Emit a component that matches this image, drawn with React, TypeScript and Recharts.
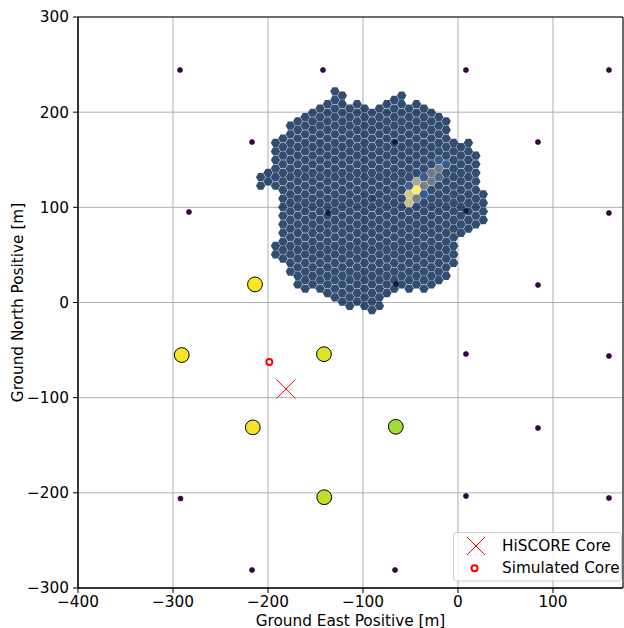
import React from 'react';
import { ScatterChart, Scatter, XAxis, YAxis, CartesianGrid, ReferenceArea, Legend } from 'recharts';

const FONT = 'DejaVu Sans, Verdana, sans-serif';
const FS = 15.3;

// axis ranges and ticks
const X_MIN = -400;
const X_MAX = 173.7;
const Y_MIN = -300;
const Y_MAX = 300;
const xTicks = [-400, -300, -200, -100, 0, 100];
const yTicks = [-300, -200, -100, 0, 100, 200, 300];

// stations without signal (x, y in m)
const quietX = [-292.6, -142.1, 8.4, 158.9, -216.8, -66.3, 84.2, -283.2, -136.8, 8.4, 158.9, -65.3, 84.2, 8.4, 158.9, 84.2, 8.4, 158.9, -292.1, -216.8, -66.3];
const quietY = [244.3, 244.3, 244.3, 244.3, 168.6, 168.6, 168.6, 95.1, 94.1, 96.1, 94.1, 19.4, 18.4, -54.1, -56.2, -131.9, -203.3, -205.4, -206.0, -281.1, -281.1];

// triggered stations with their normalised signal
const hitX = [-213.7, -290.8, -141.1, -216.0, -65.5, -140.8];
const hitY = [19.0, -55.2, -54.3, -131.2, -130.6, -204.6];
const hitSignal = [1.0, 0.99, 0.95, 0.98, 0.86, 0.91];

// reconstructed and simulated shower cores
const hiscoreCore = [{ x: -181.1, y: -90.9 }];
const simulatedCore = [{ x: -198.6, y: -62.5 }];
const telescopeMark = [{ x: -89.2, y: 109.5 }];

// camera image projected onto the ground: hexagonal pixel lattice
// (flat-topped hexagons, columns of cells with alternating half-row offset)
const COL_X0 = -207.7;
const COL_DX = 7.81;
const ROW_Y0 = 122.7;
const ROW_DY = 4.51;
// [column, first half-row, last half-row]
const cameraSegments: [number, number, number][] = [
  [0, -2, 0], [1, -3, -1], [2, -10, 0], [2, 14, 16], [3, -11, 17], [4, -14, 20],
  [5, -15, 23], [6, -16, 24], [7, -17, 23], [8, -18, 24], [9, -19, 25], [10, -22, 26],
  [11, -21, 27], [12, -18, 28], [13, -19, 27], [14, -18, 28], [15, -17, 29], [16, -18, 28],
  [17, -19, 25], [18, -20, 24], [19, -21, 23], [20, -18, 24], [21, -19, 23], [22, -18, 24],
  [23, -17, 23], [24, -16, 22], [25, -15, 21], [26, -10, 18], [27, -9, 11], [28, -10, 10],
  [29, -7, 9], [30, 2, 8],
];
// pixels carrying Cherenkov light: [column, half-row, intensity]
const litPixels: [number, number, number][] = [
  [21, 1, 1.0], [20, 2, 0.8], [20, 4, 0.75], [21, 3, 0.35], [20, 0, 0.15], [21, -1, 0.6],
  [22, 0, 0.35], [22, 2, 0.12], [22, -2, 0.12], [23, -1, 0.3], [24, -2, 0.18], [23, -3, 0.3],
  [24, -4, 0.3], [24, -6, 0.12], [25, -5, 0.12],
];

const VIRIDIS = ['#440154', '#482878', '#3E4A89', '#31688E', '#26828E', '#1F9E89', '#35B779', '#6DCD59', '#B4DE2C', '#FDE725'];
const CIVIDIS = ['#00204D', '#00336F', '#39486B', '#575C6D', '#707173', '#8A8779', '#A69D75', '#C4B56C', '#E4CF5B', '#FFEA46'];

function ramp(stops: string[], v: number): string {
  const t = Math.max(0, Math.min(1, v)) * (stops.length - 1);
  const i = Math.min(stops.length - 2, Math.floor(t));
  const f = t - i;
  const a = stops[i], b = stops[i + 1];
  const ch = (s: string, k: number) => parseInt(s.slice(1 + 2 * k, 3 + 2 * k), 16);
  const c = [0, 1, 2].map((k) => Math.round(ch(a, k) + (ch(b, k) - ch(a, k)) * f));
  return `rgb(${c[0]},${c[1]},${c[2]})`;
}

const quietStations = quietX.map((x, i) => ({ x, y: quietY[i] }));
const hitStations = hitX.map((x, i) => ({ x, y: hitY[i], v: hitSignal[i] }));

const litMap = new Map<string, number>();
litPixels.forEach(([c, m, v]) => litMap.set(`${c},${m}`, v));
const cameraPixels: { x: number; y: number; v: number }[] = [];
cameraSegments.forEach(([c, m0, m1]) => {
  for (let m = m0; m <= m1; m += 2) {
    cameraPixels.push({ x: COL_X0 + c * COL_DX, y: ROW_Y0 - m * ROW_DY, v: litMap.get(`${c},${m}`) ?? 0 });
  }
});

// layout of the plotting area
const CHART_W = 624;
const CHART_H = 628;
const MARGIN = { top: 17, right: 1, bottom: 0, left: 0 };
const Y_AXIS_W = 78;
const X_AXIS_H = 40;
const KX = (CHART_W - MARGIN.right - Y_AXIS_W) / (X_MAX - X_MIN);
const KY = (CHART_H - MARGIN.top - X_AXIS_H) / (Y_MAX - Y_MIN);
const HEX_R = (2 * ROW_DY) / Math.sqrt(3);

const HexPixel = (props: any) => {
  const { cx, cy, payload } = props;
  const r = HEX_R * 0.955;
  const pts = [0, 60, 120, 180, 240, 300]
    .map((a) => {
      const t = (a * Math.PI) / 180;
      return `${cx + r * KX * Math.cos(t)},${cy - r * KY * Math.sin(t)}`;
    })
    .join(' ');
  return <polygon points={pts} fill={ramp(CIVIDIS, payload.v)} fillOpacity={0.8} />;
};

const QuietDot = (props: any) => (
  <circle cx={props.cx} cy={props.cy} r={2.5} fill={ramp(VIRIDIS, 0)} stroke="#000" strokeWidth={0.6} />
);
const HitDot = (props: any) => (
  <circle cx={props.cx} cy={props.cy} r={7.4} fill={ramp(VIRIDIS, props.payload.v)} stroke="#000" strokeWidth={1} />
);
const Cross = (half: number, width: number) => (props: any) => (
  <g stroke="#ff0000" strokeWidth={width}>
    <line x1={props.cx - half} y1={props.cy - half} x2={props.cx + half} y2={props.cy + half} />
    <line x1={props.cx - half} y1={props.cy + half} x2={props.cx + half} y2={props.cy - half} />
  </g>
);
const Ring = (props: any) => (
  <circle cx={props.cx} cy={props.cy} r={3} fill="#fff" stroke="#ff0000" strokeWidth={2} />
);

const LegendBox = () => (
  <svg width={170} height={50} style={{ display: 'block' }}>
    <rect x={0.5} y={0.5} width={168} height={48.5} rx={3} fill="#fff" fillOpacity={0.8} stroke="#cccccc" />
    <g stroke="#ff0000" strokeWidth={1}>
      <line x1={14} y1={5} x2={32} y2={23} />
      <line x1={14} y1={23} x2={32} y2={5} />
    </g>
    <circle cx={21.5} cy={36.3} r={3} fill="#fff" stroke="#ff0000" strokeWidth={2} />
    <text x={49} y={19} fontSize={FS} fontFamily={FONT} fill="#000">HiSCORE Core</text>
    <text x={49} y={40.5} fontSize={FS} fontFamily={FONT} fill="#000">Simulated Core</text>
  </svg>
);

const fmt = (v: number) => String(v).replace('-', '\u2212');
const tickStyle = { fill: '#000', fontSize: FS, fontFamily: FONT };

export default function App() {
  return (
    <div style={{ position: 'absolute', left: 0, top: 0, background: '#fff' }}>
      <ScatterChart width={CHART_W} height={CHART_H} margin={MARGIN}>
        <CartesianGrid stroke="#b0b0b0" strokeWidth={1} />
        <XAxis
          type="number"
          dataKey="x"
          domain={[X_MIN, X_MAX]}
          ticks={xTicks}
          allowDataOverflow
          height={X_AXIS_H}
          tickFormatter={fmt}
          tick={tickStyle}
          tickSize={5}
          tickMargin={3}
          tickLine={{ stroke: '#000' }}
          axisLine={{ stroke: '#000' }}
          label={{ value: 'Ground East Positive [m]', position: 'insideBottom', offset: 2.5, fill: '#000', fontSize: FS, fontFamily: FONT }}
        />
        <YAxis
          type="number"
          dataKey="y"
          domain={[Y_MIN, Y_MAX]}
          ticks={yTicks}
          allowDataOverflow
          width={Y_AXIS_W}
          tickFormatter={fmt}
          tick={tickStyle}
          tickSize={5}
          tickMargin={4}
          tickLine={{ stroke: '#000' }}
          axisLine={{ stroke: '#000' }}
          label={{ value: 'Ground North Positive [m]', angle: -90, position: 'insideLeft', offset: 17.5, fill: '#000', fontSize: FS, fontFamily: FONT, style: { textAnchor: 'middle' } }}
        />
        <ReferenceArea x1={X_MIN} x2={X_MAX} y1={Y_MIN} y2={Y_MAX} fill="none" stroke="#000" strokeWidth={1} strokeOpacity={1} fillOpacity={0} />
        <Scatter name="stations" data={quietStations} shape={QuietDot} isAnimationActive={false} legendType="none" />
        <Scatter name="telescope" data={telescopeMark} shape={Cross(2.8, 1)} isAnimationActive={false} legendType="none" />
        <Scatter name="camera" data={cameraPixels} shape={HexPixel} isAnimationActive={false} legendType="none" />
        <Scatter name="triggered" data={hitStations} shape={HitDot} isAnimationActive={false} legendType="none" />
        <Scatter name="HiSCORE Core" data={hiscoreCore} shape={Cross(9.5, 1)} isAnimationActive={false} />
        <Scatter name="Simulated Core" data={simulatedCore} shape={Ring} isAnimationActive={false} />
        <Legend
          layout="horizontal"
          verticalAlign="middle"
          align="center"
          content={LegendBox}
          wrapperStyle={{ left: 453, top: 532, width: 170, height: 50 }}
        />
      </ScatterChart>
    </div>
  );
}
